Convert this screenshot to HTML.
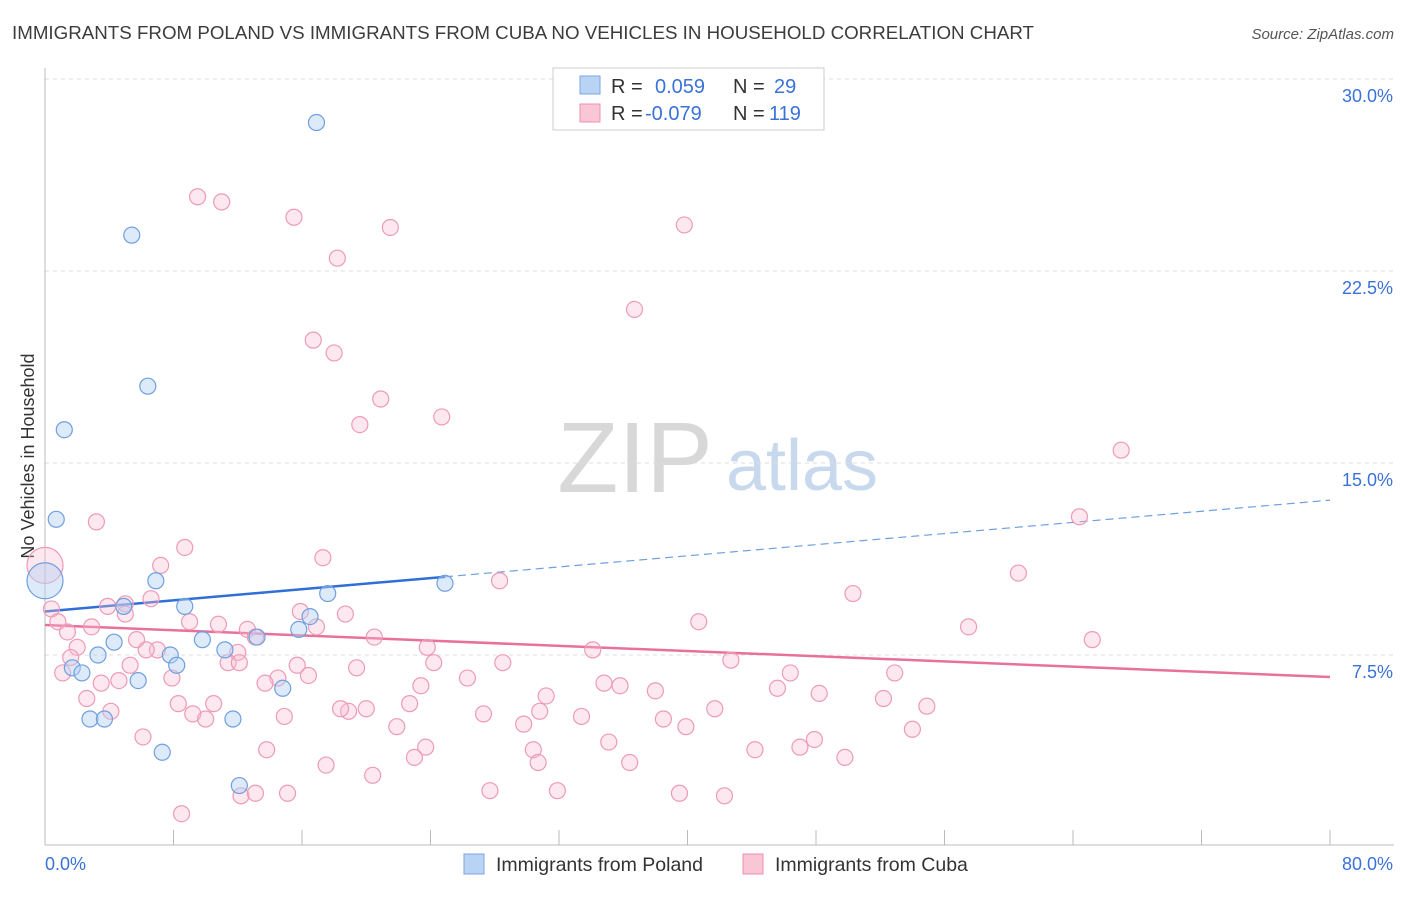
<!DOCTYPE html>
<html><head><meta charset="utf-8"><style>
body{margin:0;background:#fff;font-family:"Liberation Sans",sans-serif;}
svg text{font-family:"Liberation Sans",sans-serif;}
</style></head><body>
<svg id="chart" width="1406" height="892" xmlns="http://www.w3.org/2000/svg">
<text x="12" y="39" font-size="18.5" fill="#3c3c3c" textLength="1022" lengthAdjust="spacingAndGlyphs">IMMIGRANTS FROM POLAND VS IMMIGRANTS FROM CUBA NO VEHICLES IN HOUSEHOLD CORRELATION CHART</text>
<text x="1394" y="39" font-size="15" fill="#555" text-anchor="end" font-style="italic">Source: ZipAtlas.com</text>
<text transform="translate(34,456) rotate(-90)" font-size="18" fill="#333" text-anchor="middle">No Vehicles in Household</text>
<g id="watermark">
<text x="635" y="492" font-size="100" fill="#d8d8d8" text-anchor="middle" font-family="Liberation Serif">ZIP</text>
<text x="802" y="490" font-size="72" fill="#c8d9ee" text-anchor="middle">atlas</text>
</g>
<g id="grid"></g><g id="axes"></g><g id="trend"></g><g id="points"></g>
<g>
<rect x="553" y="68" width="271" height="62" fill="#fff" stroke="#ccc"/>
<rect x="580" y="76" width="20" height="18" fill="#b9d3f5" stroke="#7aa7e0"/>
<rect x="580" y="104" width="20" height="18" fill="#f9c6d6" stroke="#ee8fb0"/>
<text x="611" y="93" font-size="20" fill="#333">R = </text><text x="655" y="93" font-size="20" fill="#3a72d8">0.059</text>
<text x="733" y="93" font-size="20" fill="#333">N = </text><text x="774" y="93" font-size="20" fill="#3a72d8">29</text>
<text x="611" y="120" font-size="20" fill="#333">R = </text><text x="645" y="120" font-size="20" fill="#3a72d8">-0.079</text>
<text x="733" y="120" font-size="20" fill="#333">N = </text><text x="769" y="120" font-size="20" fill="#3a72d8">119</text>
</g>
<g>
<rect x="464" y="854" width="20" height="20" fill="#b9d3f5" stroke="#7aa7e0"/>
<text x="496" y="871" font-size="19.5" fill="#333">Immigrants from Poland</text>
<rect x="743" y="854" width="20" height="20" fill="#f9c6d6" stroke="#ee8fb0"/>
<text x="775" y="871" font-size="19.5" fill="#333">Immigrants from Cuba</text>
</g>
</svg>
<script>
const xTickVals=[0,8,16,24,32,40,48,56,64,72,80];
const yTickVals=[7.5,15,22.5,30];
const yTickLabels=["7.5%","15.0%","22.5%","30.0%"];
const polandX=[16.9,5.4,6.4,1.2,0.7,0,6.9,4.9,8.7,17.6,16.5,24.9,4.3,9.8,13.2,15.8,3.3,7.8,11.2,1.7,2.3,8.2,5.8,14.8,2.8,3.7,11.7,7.3,12.1];
const polandY=[28.3,23.9,18.0,16.3,12.8,10.4,10.4,9.4,9.4,9.9,9.0,10.3,8.0,8.1,8.2,8.5,7.5,7.5,7.7,7.0,6.8,7.1,6.5,6.2,5.0,5.0,5.0,3.7,2.4];
const cubaX=[9.5,11.0,15.5,21.5,39.8,18.2,36.7,16.7,18.0,20.9,24.7,19.6,67.0,64.4,3.2,8.7,17.3,7.2,60.6,28.3,0,0.4,50.3,3.9,5.0,6.6,5.0,15.9,18.7,40.7,0.8,2.9,9.0,10.8,16.9,57.5,1.4,12.6,13.1,20.5,65.2,5.7,23.8,2.0,7.0,6.3,12.0,1.6,5.3,28.5,42.7,24.2,15.7,11.4,12.1,19.4,34.1,1.1,7.9,14.5,16.4,46.4,52.9,26.3,4.6,3.5,13.7,34.8,35.8,23.4,45.6,2.6,31.2,38.0,48.2,8.3,10.5,22.7,52.2,4.1,9.2,10.0,18.9,18.4,20.0,30.8,41.7,54.9,14.9,27.3,33.4,38.5,29.8,21.9,39.9,54.0,6.1,47.9,13.8,23.7,35.1,47.0,44.2,30.4,23.0,30.7,49.8,36.4,17.5,20.4,27.7,31.9,39.5,12.2,13.1,15.1,42.3,8.5];
const cubaY=[25.4,25.2,24.6,24.2,24.3,23.0,21.0,19.8,19.3,17.5,16.8,16.5,15.5,12.9,12.7,11.7,11.3,11.0,10.7,10.4,11.0,9.3,9.9,9.4,9.5,9.7,9.1,9.2,9.1,8.8,8.8,8.6,8.8,8.7,8.6,8.6,8.4,8.5,8.2,8.2,8.1,8.1,7.8,7.8,7.7,7.7,7.6,7.4,7.1,7.2,7.3,7.2,7.1,7.2,7.2,7.0,7.7,6.8,6.6,6.6,6.7,6.8,6.8,6.6,6.5,6.4,6.4,6.4,6.3,6.3,6.2,5.8,5.9,6.1,6.0,5.6,5.6,5.6,5.8,5.3,5.2,5.0,5.3,5.4,5.4,5.3,5.4,5.5,5.1,5.2,5.1,5.0,4.8,4.7,4.7,4.6,4.3,4.2,3.8,3.9,4.1,3.9,3.8,3.8,3.5,3.3,3.5,3.3,3.2,2.8,2.2,2.2,2.1,2.0,2.1,2.1,2.0,1.3];
const polandTrend=[9.2,13.55];
const polandSolidEnd=24.9;
const cubaTrend=[8.67,6.64];
const X=v=>45+v*(1285/80);
const Y=v=>847-v*25.6;
const NS="http://www.w3.org/2000/svg";
function mk(tag,attrs,parent){const e=document.createElementNS(NS,tag);for(const k in attrs)e.setAttribute(k,attrs[k]);parent.appendChild(e);return e;}
const grid=document.getElementById('grid'),axes=document.getElementById('axes'),trend=document.getElementById('trend'),pts=document.getElementById('points');
yTickVals.forEach((v,i)=>{
 const l=mk('line',{x1:45,x2:1394,y1:Y(v),y2:Y(v),stroke:'#ddd','stroke-dasharray':'4,4'},grid);
 
 
 const t=mk('text',{x:1393,y:Y(v)+23,'font-size':18,fill:'#3a72d8','text-anchor':'end'},axes);
 t.textContent=yTickLabels[i];
 
 
});
const ax=mk('line',{x1:45,x2:1394,y1:845,y2:845,stroke:'#bbb'},axes);


const ay=mk('line',{x1:45,x2:45,y1:68,y2:845,stroke:'#bbb'},axes);


xTickVals.forEach(v=>{
 const t=mk('line',{x1:X(v),x2:X(v),y1:830,y2:845,stroke:'#bbb'},axes);
 
 
});
const xl0=mk('text',{x:45,y:870,'font-size':18,fill:'#3a72d8'},axes);xl0.textContent=xTickVals[0].toFixed(1)+'%';


const xl1=mk('text',{x:1393,y:870,'font-size':18,fill:'#3a72d8','text-anchor':'end'},axes);xl1.textContent=xTickVals[xTickVals.length-1].toFixed(1)+'%';


cubaX.forEach((x,i)=>{
 const r=(x===0)?18:8;
 const c=mk('circle',{cx:X(x),cy:Y(cubaY[i]),r:r,fill:'rgba(248,190,210,0.35)',stroke:'#ee9ab6','stroke-width':1.2},pts);
 
 
});
polandX.forEach((x,i)=>{
 const r=(x===0)?18:8;
 const c=mk('circle',{cx:X(x),cy:Y(polandY[i]),r:r,fill:'rgba(180,208,245,0.45)',stroke:'#6f9fe0','stroke-width':1.2},pts);
 
 
});
const py=v=>polandTrend[0]+(polandTrend[1]-polandTrend[0])*v/80;
const pl=mk('line',{x1:X(0),y1:Y(py(0)),x2:X(polandSolidEnd),y2:Y(py(polandSolidEnd)),stroke:'#2f6fd6','stroke-width':2.5},trend);


const pd=mk('line',{x1:X(polandSolidEnd),y1:Y(py(polandSolidEnd)),x2:X(80),y2:Y(py(80)),stroke:'#6f9fe0','stroke-width':1.2,'stroke-dasharray':'8,5'},trend);


const cl=mk('line',{x1:X(0),y1:Y(cubaTrend[0]),x2:X(80),y2:Y(cubaTrend[1]),stroke:'#e8719a','stroke-width':2.5},trend);


</script>
</body></html>
